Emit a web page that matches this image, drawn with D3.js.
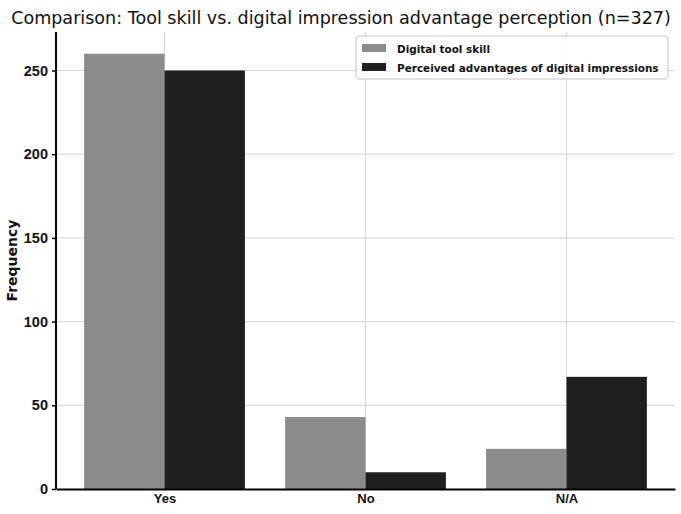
<!DOCTYPE html>
<html>
<head>
<meta charset="utf-8">
<script src="https://d3js.org/d3.v7.min.js"></script>
<style>
  body { margin: 0; background: #fff; }
  svg { display: block; font-family: "DejaVu Sans", sans-serif; }
</style>
</head>
<body>
<svg id="chart" width="681" height="514"></svg>
<script>
// Chart data
const categories = ["Yes", "No", "N/A"];
const seriesNames = ["Digital tool skill", "Perceived advantages of digital impressions"];
const toolSkill = [260, 43, 24];
const perceivedAdvantages = [250, 10, 67];
const yTicks = [0, 50, 100, 150, 200, 250];

const colors = ["#8b8b8b", "#1f1f1f"];
const seriesValues = [toolSkill, perceivedAdvantages];

const width = 681, height = 514;
const margin = { top: 32, right: 6, bottom: 25, left: 56 };

const svg = d3.select("#chart");

// scale the font size so the text gets the reference width
function fitSize(sel, w) {
  const size = +sel.attr("font-size");
  const len = sel.node().getComputedTextLength();
  sel.attr("font-size", (size * w / len).toFixed(2));
  return sel;
}

// x as numeric positions like a grouped bar plot (0, 1, 2), bar width 0.4
const barW = 0.4;
const x = d3.scaleLinear()
  .domain([-0.54, categories.length - 1 + 0.54])
  .range([margin.left, width - margin.right]);

const yMax = d3.max([...toolSkill, ...perceivedAdvantages]) * 1.05;
const y = d3.scaleLinear()
  .domain([0, yMax])
  .range([height - margin.bottom, margin.top]);

// Grid lines
svg.append("g")
  .selectAll("line")
  .data(yTicks.filter(d => d > 0))
  .join("line")
  .attr("x1", margin.left).attr("x2", width - margin.right)
  .attr("y1", d => y(d)).attr("y2", d => y(d))
  .attr("stroke", "#d6d6d6").attr("stroke-width", 1);

svg.append("g")
  .selectAll("line")
  .data(categories)
  .join("line")
  .attr("x1", (d, i) => x(i)).attr("x2", (d, i) => x(i))
  .attr("y1", margin.top).attr("y2", height - margin.bottom)
  .attr("stroke", "#d6d6d6").attr("stroke-width", 1);

// Bars
seriesValues.forEach((vals, s) => {
  svg.append("g")
    .selectAll("rect")
    .data(vals)
    .join("rect")
    .attr("x", (d, i) => x(i - barW + s * barW))
    .attr("width", x(barW) - x(0))
    .attr("y", d => y(d))
    .attr("height", d => y(0) - y(d))
    .attr("fill", colors[s]);
});

// Y axis
const yAxis = svg.append("g")
  .attr("transform", `translate(${margin.left},0)`)
  .call(d3.axisLeft(y).tickValues(yTicks).tickSize(4).tickPadding(4));
yAxis.select(".domain").attr("stroke", "#000").attr("stroke-width", 2)
  .attr("d", `M0,${margin.top}V${y(0)}`);
yAxis.selectAll(".tick line").attr("stroke", "#000").attr("stroke-width", 1.5);
yAxis.selectAll(".tick text")
  .attr("font-size", 14.5).attr("font-weight", "bold").attr("fill", "#111");

// X axis
const xAxis = svg.append("g")
  .attr("transform", `translate(0,${y(0)})`)
  .call(d3.axisBottom(x).tickValues(d3.range(categories.length))
    .tickFormat(i => categories[i]).tickSize(0).tickPadding(5));
xAxis.select(".domain").attr("stroke", "#000").attr("stroke-width", 2);
xAxis.selectAll(".tick text")
  .attr("font-size", 13).attr("font-weight", "bold").attr("fill", "#111");

// Y label
svg.append("text")
  .attr("transform", `translate(17,${(margin.top + y(0)) / 2}) rotate(-90)`)
  .attr("text-anchor", "middle")
  .attr("font-size", 14).attr("font-weight", "bold")
  .attr("fill", "#111")
  .text("Frequency");

// Title
const title = svg.append("text")
  .attr("x", 341).attr("y", 24)
  .attr("text-anchor", "middle")
  .attr("font-size", 19)
  .attr("fill", "#111")
  .text("Comparison: Tool skill vs. digital impression advantage perception (n=327)");
fitSize(title, 660);

// Legend
const legend = svg.append("g").attr("transform", "translate(356,36)");
legend.append("rect")
  .attr("width", 312).attr("height", 43)
  .attr("rx", 3)
  .attr("fill", "#fff").attr("fill-opacity", 0.9)
  .attr("stroke", "#c4c4c4");
const legendTexts = [];
seriesNames.forEach((name, i) => {
  const row = legend.append("g").attr("transform", `translate(6,${12 + i * 19})`);
  row.append("rect").attr("y", -4).attr("width", 24).attr("height", 8).attr("fill", colors[i]);
  legendTexts.push(row.append("text")
    .attr("x", 35).attr("y", 4.5)
    .attr("font-size", 13).attr("font-weight", "bold")
    .attr("font-family", "'Liberation Sans Narrow', 'DejaVu Sans', sans-serif")
    .attr("fill", "#111")
    .text(name));
});
// same size for both rows, set by the long one
fitSize(legendTexts[1], 262);
legendTexts[0].attr("font-size", legendTexts[1].attr("font-size"));
</script>
</body>
</html>
